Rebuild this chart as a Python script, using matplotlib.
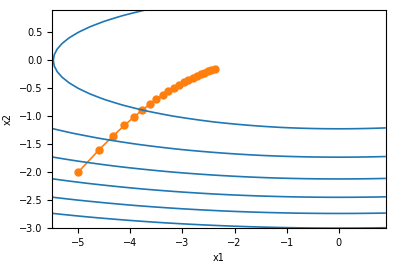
import matplotlib
matplotlib.use('Agg')
import matplotlib.pyplot as plt
import numpy as np

# 优化轨迹 (x1, x2)
trace_x1 = [-5.0, -4.6, -4.329, -4.114, -3.932, -3.773, -3.630, -3.500, -3.380,
            -3.269, -3.166, -3.068, -2.976, -2.889, -2.807, -2.728, -2.653,
            -2.581, -2.512, -2.446, -2.383]
trace_x2 = [-2.0, -1.6, -1.350, -1.164, -1.014, -0.891, -0.786, -0.696, -0.618,
            -0.549, -0.489, -0.436, -0.389, -0.347, -0.310, -0.277, -0.248,
            -0.222, -0.198, -0.177, -0.159]

# 目标函数 f = a*x1^2 + b*x2^2 的等高线
coef_a, coef_b = 0.1, 2.0
levels = [3, 6, 9, 12, 15, 18, 21]

x1, x2 = np.meshgrid(np.arange(-5.5, 1.0, 0.1), np.arange(-3.0, 1.0, 0.1))
z = coef_a * x1 ** 2 + coef_b * x2 ** 2

fig = plt.figure(figsize=(4.07, 2.64), dpi=100)
ax = fig.add_subplot(111)
fig.subplots_adjust(left=0.128, right=0.948, top=0.962, bottom=0.136)

ax.plot(trace_x1, trace_x2, '-o', color='#ff7f0e', markersize=5, linewidth=1.2)
ax.contour(x1, x2, z, levels=levels, colors='#1f77b4', linewidths=1.2)

ax.set_xlim(-5.5, 0.9)
ax.set_ylim(-3.0, 0.9)
ax.set_xlabel('x1', fontsize=7)
ax.set_ylabel('x2', fontsize=7)
ax.tick_params(labelsize=7)

fig.savefig('out.png', dpi=100)
